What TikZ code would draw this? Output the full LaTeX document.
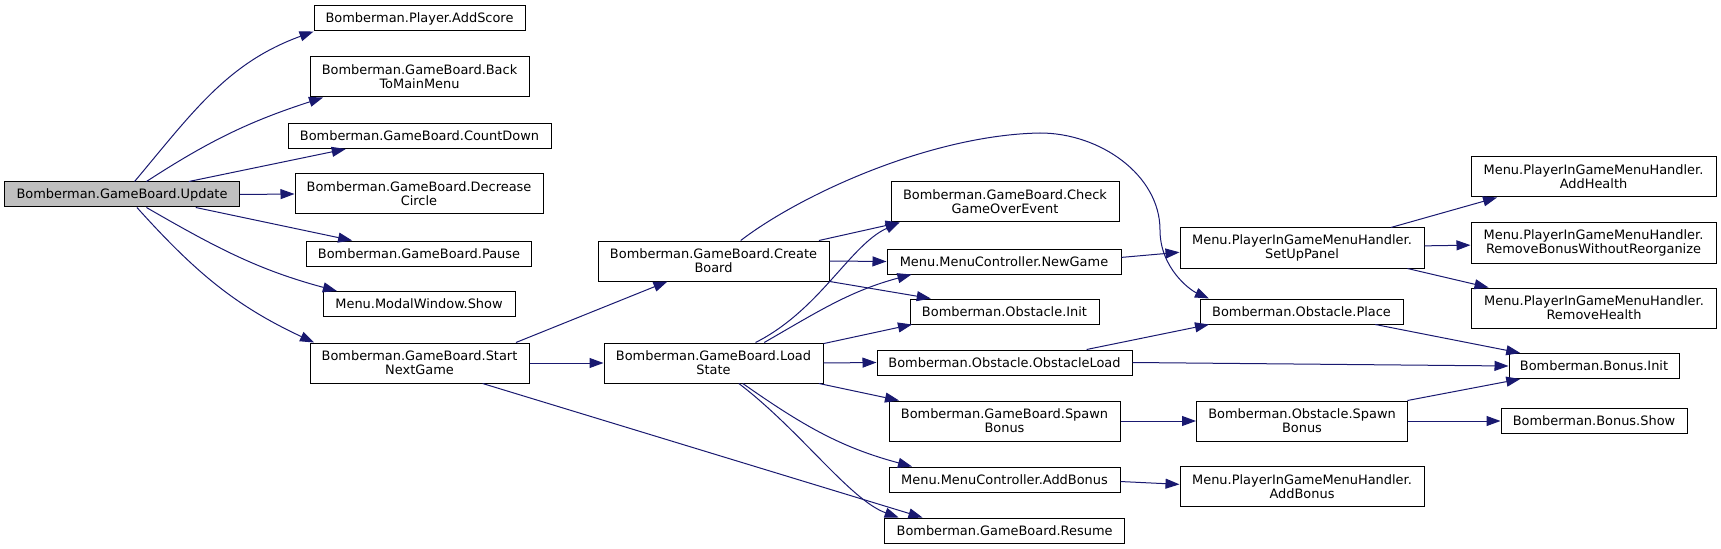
\documentclass[tikz,border=0pt]{standalone}
\usepackage{fontspec}
\setmainfont{DejaVu Sans}
\usetikzlibrary{arrows.meta}
\definecolor{edgeblue}{HTML}{191970}
\definecolor{rootgray}{HTML}{BFBFBF}
\tikzset{
  fn/.style={draw=black, line width=0.75pt, fill=white, align=center,
    minimum width=#1*0.75pt, minimum height=18.75pt, inner sep=1pt,
    font=\fontsize{9.7}{10.7}\selectfont},
  fntwo/.style={fn=#1, minimum height=30pt},
  rootfn/.style={fn=#1, fill=rootgray},
  calledge/.style={draw=edgeblue, line width=0.75pt,
    -{Triangle[length=10.5pt,width=7.5pt]}}
}
\begin{document}
\begin{tikzpicture}[x=0.75pt,y=-0.75pt]
  \useasboundingbox (0,0) rectangle (1721,549);
  % column 1
  \node[rootfn=235] (upd) at (122,194.5) {Bomberman.GameBoard.Update};
  % column 2
  \node[fn=211] (adds) at (419.5,18.5) {Bomberman.Player.AddScore};
  \node[fntwo=219] (back) at (419.5,77) {Bomberman.GameBoard.Back\\ToMainMenu};
  \node[fn=263] (cnt) at (419.5,136) {Bomberman.GameBoard.CountDown};
  \node[fntwo=248] (dec) at (419,194) {Bomberman.GameBoard.Decrease\\Circle};
  \node[fn=225] (pause) at (419,253.5) {Bomberman.GameBoard.Pause};
  \node[fn=192] (modal) at (419,304) {Menu.ModalWindow.Show};
  \node[fntwo=219] (start) at (419.5,363) {Bomberman.GameBoard.Start\\NextGame};
  % column 3
  \node[fntwo=231] (create) at (713.5,261) {Bomberman.GameBoard.Create\\Board};
  \node[fntwo=219] (load) at (713.5,363) {Bomberman.GameBoard.Load\\State};
  % column 4
  \node[fntwo=228] (check) at (1005,202) {Bomberman.GameBoard.Check\\GameOverEvent};
  \node[fn=234] (newg) at (1004,261.5) {Menu.MenuController.NewGame};
  \node[fn=189] (oinit) at (1004.5,311.5) {Bomberman.Obstacle.Init};
  \node[fn=255] (oload) at (1004.5,362.5) {Bomberman.Obstacle.ObstacleLoad};
  \node[fntwo=231] (gspawn) at (1004.5,421) {Bomberman.GameBoard.Spawn\\Bonus};
  \node[fn=231] (mcadd) at (1004.5,479.5) {Menu.MenuController.AddBonus};
  \node[fn=240] (resume) at (1004.6,530.5) {Bomberman.GameBoard.Resume};
  % column 5
  \node[fntwo=244] (setup) at (1302,248) {Menu.PlayerInGameMenuHandler.\\SetUpPanel};
  \node[fn=203] (place) at (1301.5,311.5) {Bomberman.Obstacle.Place};
  \node[fntwo=211] (ospawn) at (1302,421) {Bomberman.Obstacle.Spawn\\Bonus};
  \node[fntwo=244] (padd) at (1302,486.5) {Menu.PlayerInGameMenuHandler.\\AddBonus};
  % column 6
  \node[fntwo=245] (health) at (1593.5,177) {Menu.PlayerInGameMenuHandler.\\AddHealth};
  \node[fntwo=245] (rbwr) at (1593.5,243) {Menu.PlayerInGameMenuHandler.\\RemoveBonusWithoutReorganize};
  \node[fntwo=245] (rhealth) at (1594,308) {Menu.PlayerInGameMenuHandler.\\RemoveHealth};
  \node[fn=170] (binit) at (1594,366) {Bomberman.Bonus.Init};
  \node[fn=186] (bshow) at (1594,421) {Bomberman.Bonus.Show};

  % calls from Update
  \draw[calledge] (upd.46) to[out=50,in=200] (adds.187);
  \draw[calledge] (upd.28) to[out=33,in=198] (back.192.5);
  \draw[calledge] (upd.11) -- (cnt.190.6);
  \draw[calledge] (upd.east) -- (dec.west);
  \draw[calledge] (upd.-10.6) -- (pause.169);
  \draw[calledge] (upd.-28.5) to[out=-30,in=165] (modal.171.4);
  \draw[calledge] (upd.-41.8) to[out=-48,in=155] (start.169);
  % calls from StartNextGame
  \draw[calledge] (start.12.9) -- (create.204.7);
  \draw[calledge] (start.east) -- (load.west);
  \draw[calledge] (start.-18.9) -- (resume.171.1);
  % calls from CreateBoard
  \draw[calledge] (create.11.3) -- (check.191.1);
  \draw[calledge] (create.east) -- (newg.west);
  \draw[calledge] (create.-10) -- (oinit.170.6);
  \draw[calledge] (create.37) .. controls (800,195) and (930,135) .. (1040,133)
    .. controls (1100,133) and (1160,175) .. (1160,230)
    .. controls (1160,268) and (1190,290) .. (place.172);
  % calls from LoadState
  \draw[calledge] (load.26) .. controls (820,310) and (850,245) .. (check.191.1);
  \draw[calledge] (load.22) to[out=30,in=195] (newg.188.5);
  \draw[calledge] (load.10.4) -- (oinit.188.6);
  \draw[calledge] (load.east) -- (oload.west);
  \draw[calledge] (load.-11.1) -- (gspawn.169);
  \draw[calledge] (load.-35) to[out=-35,in=165] (mcadd.172.1);
  \draw[calledge] (load.-39.2) .. controls (800,430) and (850,500) .. (resume.173.4);
  % further calls
  \draw[calledge] (newg.2.7) -- (setup.182.8);
  \draw[calledge] (setup.13.2) -- (health.192.1);
  \draw[calledge] (setup.1) -- (rbwr.181);
  \draw[calledge] (setup.-11.5) -- (rhealth.169.4);
  \draw[calledge] (oload.9.4) -- (place.188.4);
  \draw[calledge] (oload.east) -- (binit.west);
  \draw[calledge] (place.-10.3) -- (binit.170.3);
  \draw[calledge] (gspawn.east) -- (ospawn.west);
  \draw[calledge] (ospawn.11.1) -- (binit.190.1);
  \draw[calledge] (ospawn.east) -- (bshow.west);
  \draw[calledge] (mcadd.-1.2) -- (padd.179);
\end{tikzpicture}
\end{document}
